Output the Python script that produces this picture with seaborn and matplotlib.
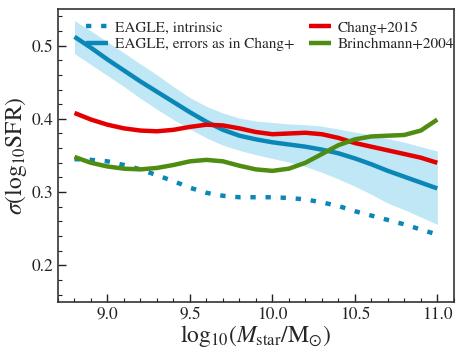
import numpy as np
import matplotlib
matplotlib.use('Agg')
import matplotlib.pyplot as plt
import seaborn as sns

# log10 stellar mass grid
mstar = [8.8, 8.9, 9.0, 9.1, 9.2, 9.3, 9.4, 9.5, 9.6, 9.7, 9.8, 9.9,
         10.0, 10.1, 10.2, 10.3, 10.4, 10.5, 10.6, 10.7, 10.8, 10.9, 11.0]

eagle_err = [0.512, 0.497, 0.481, 0.466, 0.451, 0.437, 0.423, 0.409, 0.396, 0.385, 0.377, 0.372,
             0.368, 0.365, 0.362, 0.358, 0.353, 0.346, 0.338, 0.329, 0.321, 0.313, 0.305]
eagle_hi = [0.534, 0.520, 0.505, 0.490, 0.475, 0.460, 0.444, 0.429, 0.417, 0.408, 0.401, 0.397,
            0.395, 0.393, 0.392, 0.390, 0.386, 0.382, 0.378, 0.373, 0.368, 0.362, 0.356]
eagle_lo = [0.489, 0.474, 0.459, 0.444, 0.428, 0.413, 0.399, 0.386, 0.374, 0.364, 0.357, 0.351,
            0.346, 0.341, 0.335, 0.327, 0.318, 0.308, 0.297, 0.285, 0.276, 0.266, 0.256]
eagle_intr = [0.345, 0.344, 0.342, 0.337, 0.331, 0.323, 0.315, 0.306, 0.299, 0.295, 0.293, 0.293,
              0.293, 0.292, 0.290, 0.286, 0.281, 0.274, 0.268, 0.262, 0.256, 0.249, 0.242]
chang = [0.408, 0.399, 0.392, 0.387, 0.384, 0.383, 0.385, 0.389, 0.392, 0.391, 0.387, 0.382,
         0.379, 0.380, 0.381, 0.379, 0.374, 0.367, 0.362, 0.357, 0.352, 0.347, 0.340]
brinch = [0.348, 0.340, 0.335, 0.332, 0.331, 0.333, 0.337, 0.342, 0.344, 0.342, 0.336, 0.331,
          0.329, 0.332, 0.340, 0.352, 0.364, 0.372, 0.376, 0.377, 0.378, 0.384, 0.399]

c_blue = '#0a87b6'
c_band = '#bfe7f6'
c_red = '#e40000'
c_green = '#4e8c12'

sns.set_style('ticks')
plt.rcParams['font.family'] = ['STIXGeneral', 'DejaVu Serif']
plt.rcParams['mathtext.fontset'] = 'stix'

fig = plt.figure(figsize=(4.64, 3.57), dpi=100)
ax = fig.add_axes([0.125, 0.154, 0.853, 0.821])

ax.fill_between(mstar, eagle_lo, eagle_hi, color=c_band, lw=0)

lw = 3.2
sns.lineplot(x=mstar, y=eagle_intr, ax=ax, color=c_blue, lw=lw, label='EAGLE, intrinsic')
ax.lines[-1].set_dashes((1.2, 2.2))
ax.lines[-1].set_dash_capstyle('butt')
sns.lineplot(x=mstar, y=eagle_err, ax=ax, color=c_blue, lw=lw, label='EAGLE, errors as in Chang+')
sns.lineplot(x=mstar, y=chang, ax=ax, color=c_red, lw=lw, label='Chang+2015')
sns.lineplot(x=mstar, y=brinch, ax=ax, color=c_green, lw=lw, label='Brinchmann+2004')
for ln in ax.lines:
    ln.set_solid_capstyle('butt')

ax.set_xlim(8.7, 11.1)
ax.set_ylim(0.15, 0.55)
ax.set_xticks([9.0, 9.5, 10.0, 10.5, 11.0])
ax.set_xticklabels(['9.0', '9.5', '10.0', '10.5', '11.0'])
ax.set_yticks([0.2, 0.3, 0.4, 0.5])
ax.set_yticklabels(['0.2', '0.3', '0.4', '0.5'])
ax.set_xticks(np.arange(8.7, 11.1, 0.1), minor=True)
ax.set_yticks(np.arange(0.16, 0.55, 0.02), minor=True)
ax.tick_params(which='both', direction='in', labelsize=12.5, colors='#222222')
ax.tick_params(which='major', length=6, width=1)
ax.tick_params(which='minor', length=3, width=0.8)
for sp in ax.spines.values():
    sp.set_linewidth(1.2)
    sp.set_color('#333333')

ax.set_xlabel(r'$\mathrm{log}_{10}(M_{\rm star}/\mathrm{M}_{\odot})$', fontsize=17, labelpad=0)
ax.set_ylabel(r'$\sigma(\mathrm{log}_{10}\mathrm{SFR})$', fontsize=17, labelpad=2)

ax.legend(loc='upper left', bbox_to_anchor=(0.056, 0.98), ncol=2, frameon=False,
          fontsize=11, handlelength=1.45, handletextpad=0.4, columnspacing=1.0,
          labelspacing=0.2, borderaxespad=0.0)

fig.savefig('out.png', dpi=100)
